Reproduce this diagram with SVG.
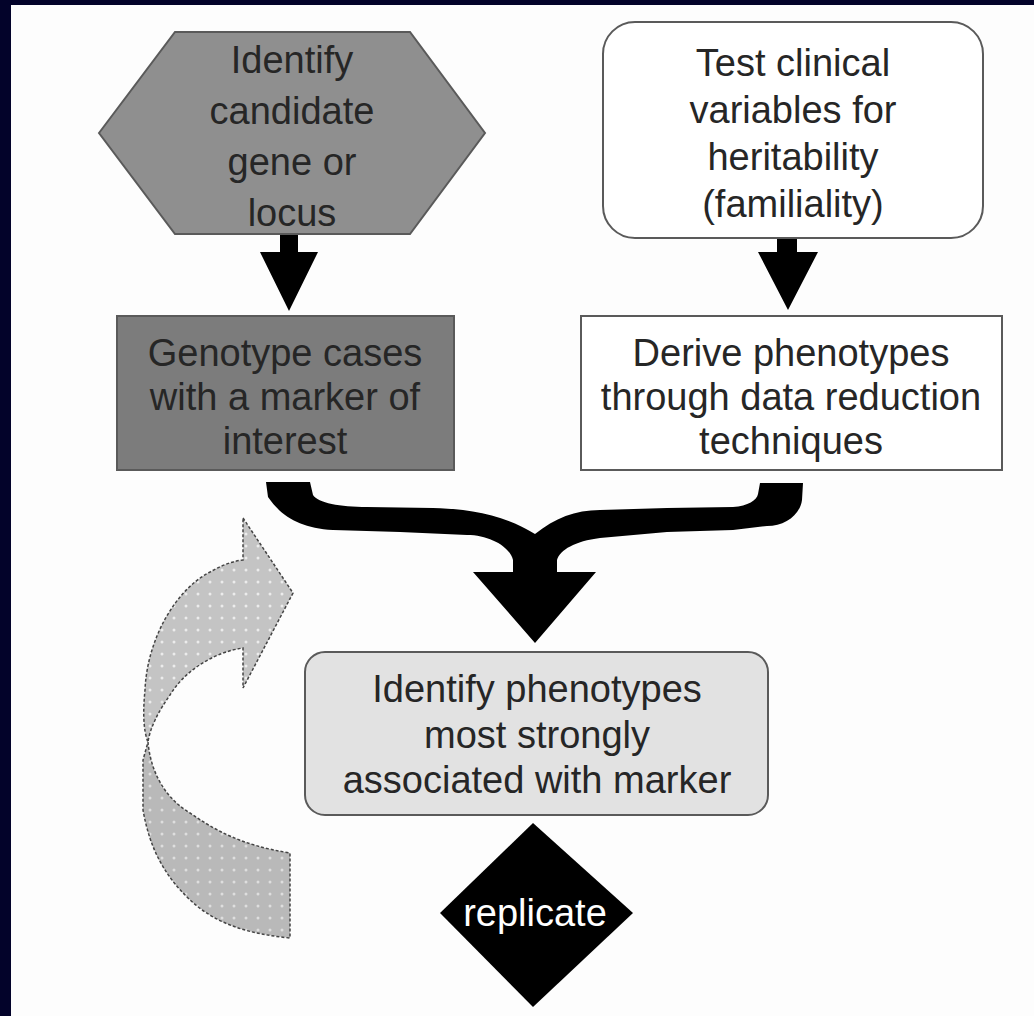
<svg xmlns="http://www.w3.org/2000/svg" width="1034" height="1016" viewBox="0 0 1034 1016">
<style>
.t{font-family:"Liberation Sans",Arial,sans-serif;font-size:38px;fill:#262626;text-anchor:middle}
.w{fill:#ffffff}
.box{stroke:#5a5a5a;stroke-width:2}
.arr{fill:#000000}
.rib{stroke:#444;stroke-width:1.5;stroke-dasharray:3 2}
</style>
<defs>
<pattern id="dots" width="12" height="12" patternUnits="userSpaceOnUse">
<rect width="12" height="12" fill="#c4c4c4"/>
<circle cx="6" cy="6" r="1.5" fill="#ececec"/>
</pattern>
<pattern id="dots2" width="12" height="12" patternUnits="userSpaceOnUse">
<rect width="12" height="12" fill="#b9b9b9"/>
<circle cx="6" cy="6" r="1.5" fill="#dedede"/>
</pattern>
</defs>
<rect x="0" y="0" width="1034" height="1016" fill="#03032a"/>
<rect x="11" y="5" width="1023" height="1011" fill="#fdfdfd"/>

<g id="connectors">
<path class="arr" d="M280,234 H298 V252 H318 L289,311 L260,252 H280 Z"/>
<path class="arr" d="M777,238 H797 V252 H818 L788,310 L758,252 H777 Z"/>
<path class="arr" d="M266,482 H310 L313,495 C318,503 340,507 367,507 L433,508 C470,509 505,515 535,534 C555,518 575,510 600,510 L667,508 L733,507 C748,506 757,500 758,494 L760,483 H803 L802,500 C800,515 785,526 767,526 L733,530 L667,532 L600,538 C575,541 560,550 557,560 V572 H596 L535,643 L473,572 H513 V560 C510,547 490,535 467,535 L400,532 L333,530 C300,528 282,517 268,497 Z"/>
<path class="rib" d="M243,518 L293,593 L243,688 V648 C215,652 185,670 170,695 C158,712 150,728 148,742 C143,730 143,710 145,690 C147,640 175,590 210,572 C222,565 233,561 243,560 Z" fill="url(#dots)"/>
<path class="rib" d="M148,742 C150,765 160,795 190,813 C215,830 240,845 290,853 V938 C250,934 215,925 187,897 C165,875 150,850 143,810 V760 Z" fill="url(#dots2)"/>
</g>

<g id="node-identify-candidate">
<polygon class="box" points="99,133 175,32 410,32 485,133 410,234 175,234" fill="#8f8f8f"/>
<text class="t" x="292" y="73">Identify</text>
<text class="t" x="292" y="124">candidate</text>
<text class="t" x="292" y="175">gene or</text>
<text class="t" x="292" y="226">locus</text>
</g>

<g id="node-test-clinical">
<rect class="box" x="603" y="22" width="380" height="216" rx="32" fill="#ffffff"/>
<text class="t" x="793" y="76">Test clinical</text>
<text class="t" x="793" y="123">variables for</text>
<text class="t" x="793" y="170">heritability</text>
<text class="t" x="793" y="217">(familiality)</text>
</g>

<g id="node-genotype">
<rect class="box" x="117" y="316" width="337" height="154" fill="#7c7c7c"/>
<text class="t" x="285" y="366">Genotype cases</text>
<text class="t" x="285" y="410">with a marker of</text>
<text class="t" x="285" y="454">interest</text>
</g>

<g id="node-derive">
<rect class="box" x="581" y="316" width="421" height="154" fill="#ffffff"/>
<text class="t" x="791" y="366">Derive phenotypes</text>
<text class="t" x="791" y="410">through data reduction</text>
<text class="t" x="791" y="454">techniques</text>
</g>

<g id="node-identify-phenotypes">
<rect class="box" x="305" y="652" width="463" height="163" rx="20" fill="#e2e2e2"/>
<text class="t" x="537" y="702">Identify phenotypes</text>
<text class="t" x="537" y="748">most strongly</text>
<text class="t" x="537" y="793">associated with marker</text>
</g>

<g id="node-replicate">
<polygon points="533,823 633,913 533,1007 440,913" fill="#000000"/>
<text class="t w" x="535" y="926">replicate</text>
</g>
</svg>
